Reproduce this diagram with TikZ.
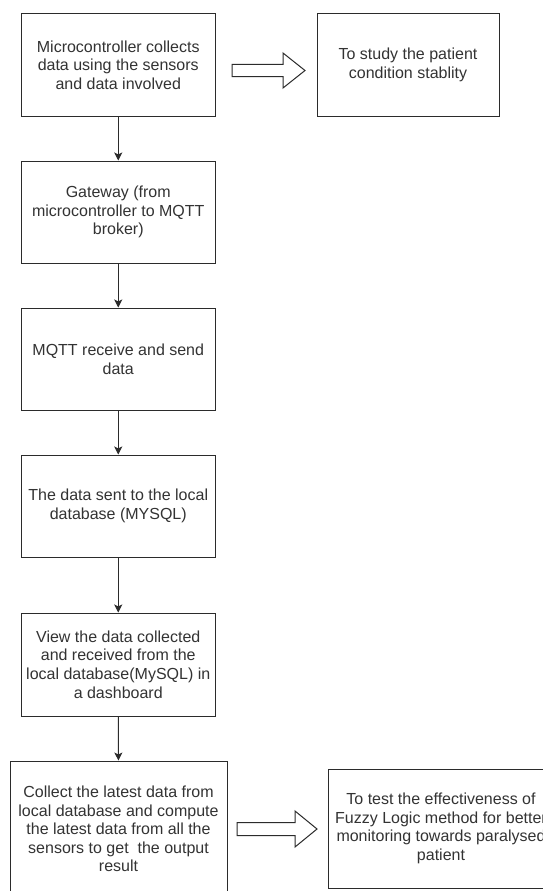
\documentclass[tikz,border=0pt]{standalone}
\usepackage{fontspec}
\setmainfont{Liberation Sans}
\usetikzlibrary{arrows.meta}
\definecolor{ink}{HTML}{2B2B2B}
\definecolor{txt}{HTML}{333333}
\tikzset{
  box/.style={draw=ink, line width=1pt, fill=white, align=center, text=txt,
    font=\fontsize{16}{18.6}\selectfont, inner sep=2pt},
  flow/.style={draw=ink, line width=1pt, -{Stealth[length=8pt,width=8pt,inset=2pt]}},
  blockarrow/.style={draw=ink, line width=1pt, fill=white, line join=miter}
}
\begin{document}
\begin{tikzpicture}[x=1pt,y=-1pt]
\useasboundingbox (0,0) rectangle (543,891);
\clip (0,0) rectangle (543,891);
\fill[white] (0,0) rectangle (543,891);

\node[box, minimum width=193.5pt, minimum height=102pt] (b1) at (118.25,65)
  {Microcontroller collects\\data using the sensors\\and data involved};
\node[box, minimum width=182pt, minimum height=102pt] (r1) at (408,65)
  {To study the patient\\condition stablity};
\node[box, minimum width=193.5pt, minimum height=102pt] (b2) at (118.25,212)
  {Gateway (from\\microcontroller to MQTT\\broker)};
\node[box, minimum width=193.5pt, minimum height=102pt] (b3) at (118.25,359)
  {MQTT receive and send\\data};
\node[box, minimum width=193.5pt, minimum height=102pt] (b4) at (118.25,506)
  {The data sent to the local\\database (MYSQL)};
\node[box, minimum width=193.5pt, minimum height=103pt] (b5) at (118.25,664.5)
  {View the data collected\\and received from the\\local database(MySQL) in\\a dashboard};
\node[box, minimum width=217pt, minimum height=136pt] (b6) at (118.5,829)
  {Collect the latest data from\\local database and compute\\the latest data from all the\\sensors to get~ the output\\result};
\node[box, minimum width=226pt, minimum height=119pt] (r2) at (441,828.5)
  {To test the effectiveness of\\Fuzzy Logic method for better\\monitoring towards paralysed\\patient};

\draw[flow] (b1) -- (b2);
\draw[flow] (b2) -- (b3);
\draw[flow] (b3) -- (b4);
\draw[flow] (b4) -- (b5);
\draw[flow] (b5) -- (b6);

% block arrows
\draw[blockarrow] (232,64.5) -- (283,64.5) -- (283,53) -- (305,70.5) -- (283,88)
  -- (283,76.5) -- (232,76.5) -- cycle;
\draw[blockarrow] (237,822.5) -- (295,822.5) -- (295,811) -- (317,829) -- (295,847)
  -- (295,835.5) -- (237,835.5) -- cycle;
\end{tikzpicture}
\end{document}
